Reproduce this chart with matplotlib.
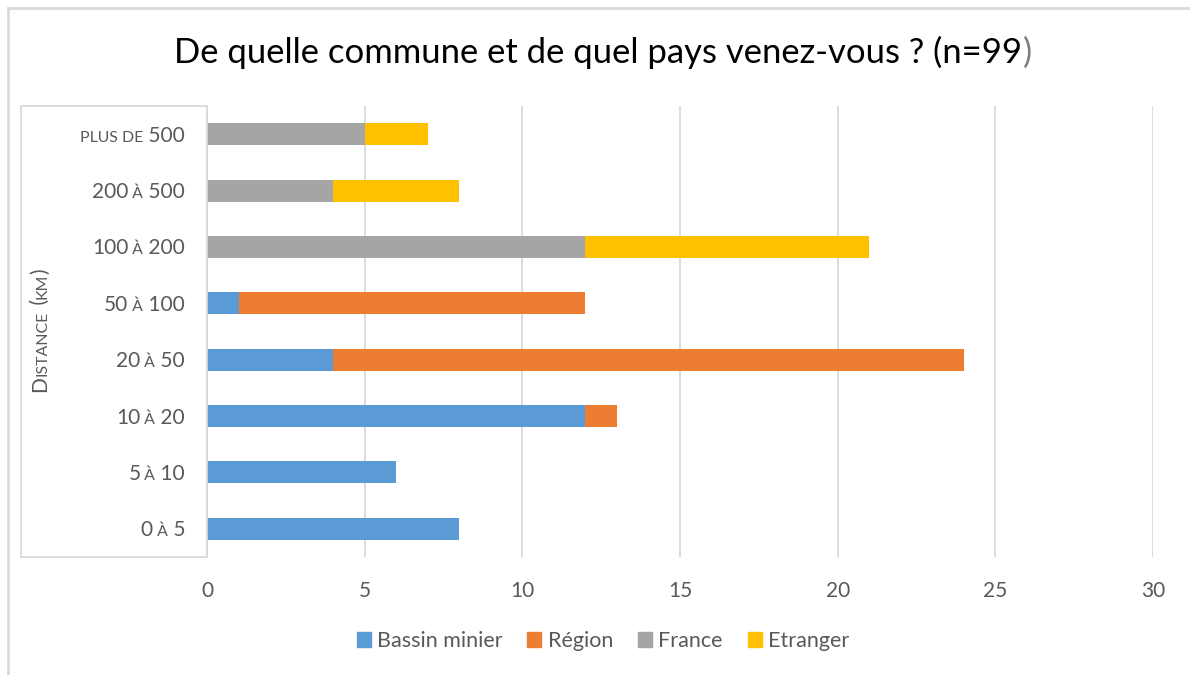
import matplotlib
matplotlib.use("Agg")
import matplotlib.pyplot as plt
from matplotlib.patches import Patch, Rectangle
from matplotlib.lines import Line2D
from matplotlib.font_manager import FontProperties
import numpy as np

plt.rcParams['font.family'] = ['Lato', 'DejaVu Sans']

# distance classes (km), bottom to top
categories = ["0 à 5", "5 à 10", "10 à 20", "20 à 50", "50 à 100",
              "100 à 200", "200 à 500", "plus de 500"]
series_names = ["Bassin minier", "Région", "France", "Etranger"]
bassin = [8, 6, 12, 4, 1, 0, 0, 0]
region = [0, 0, 1, 20, 11, 0, 0, 0]
france = [0, 0, 0, 0, 0, 12, 4, 5]
etranger = [0, 0, 0, 0, 0, 9, 4, 2]
colors = ["#5B9BD5", "#ED7D31", "#A5A5A5", "#FFC000"]
xticks = [0, 5, 10, 15, 20, 25, 30]
title = "De quelle commune et de quel pays venez-vous ? (n=99"
ylabel = "Distance (km)"

TXT = "#595959"
GRID = "#D9D9D9"
W, H = 1190, 675

fig = plt.figure(figsize=(W / 100, H / 100), dpi=100)
ax = fig.add_axes([207 / W, 1 - 557 / H, (1153 - 207) / W, (557 - 106) / H])

y = np.arange(len(categories))
left = np.zeros(len(categories))
for vals, name, c in zip([bassin, region, france, etranger], series_names, colors):
    ax.barh(y, vals, left=left, height=0.39, color=c, label=name, zorder=3)
    left += np.array(vals)

ax.set_xlim(0, 30)
ax.set_ylim(-0.5, len(categories) - 0.5)
ax.set_xticks(xticks)
ax.set_xticklabels([str(t) for t in xticks])
ax.set_yticks([])
ax.tick_params(axis='x', length=0, pad=17, labelsize=15, labelcolor=TXT)
ax.grid(axis='x', color=GRID, lw=1.3, zorder=0)
for s in ax.spines.values():
    s.set_visible(False)

# frame around the category labels and outer chart border
fig.add_artist(Rectangle((21 / W, 1 - 557 / H), (207 - 21) / W, (557 - 106) / H,
                         transform=fig.transFigure, fill=False, ec=GRID, lw=1.3))
fig.add_artist(Line2D([8 / W, 8 / W], [0, 1 - 8 / H], transform=fig.transFigure, color=GRID, lw=2))
fig.add_artist(Line2D([8 / W, 1], [1 - 8 / H, 1 - 8 / H], transform=fig.transFigure, color=GRID, lw=2))

renderer = fig.canvas.get_renderer()


def draw_runs(runs, x, yb, ha='left', rotation=0):
    """runs: (text, size, color); x, yb in pixels (yb = baseline, from bottom)"""
    widths = []
    for txt, size, col in runs:
        fp = FontProperties(family='Lato', size=size)
        w, h, d = renderer.get_text_width_height_descent(txt, fp, ismath=False)
        widths.append(w)
    total = sum(widths)
    pos = {'left': 0, 'center': -total / 2, 'right': -total}[ha]
    for (txt, size, col), w in zip(runs, widths):
        if rotation == 0:
            fig.text((x + pos) / W, yb / H, txt, fontsize=size, color=col,
                     ha='left', va='baseline', family='Lato')
        else:
            fig.text(x / W, (yb + pos) / H, txt, fontsize=size, color=col,
                     ha='left', va='baseline', rotation=90,
                     rotation_mode='anchor', family='Lato')
        pos += w


def smallcaps(s, size, color=TXT, ratio=0.76):
    # lowercase letters become reduced capitals; spaces follow the next char
    kinds = []
    for i, ch in enumerate(s):
        if ch == ' ':
            nxt = next((c for c in s[i:] if c != ' '), 'A')
            kinds.append(nxt.islower())
        else:
            kinds.append(ch.islower())
    runs = []
    for ch, k in zip(s, kinds):
        if runs and runs[-1][1] == k:
            runs[-1][0] += ch
        else:
            runs.append([ch, k])
    return [(t.upper() if k else t, size * ratio if k else size, color) for t, k in runs]


LBL = 15
cap = 0.72 * LBL * 100 / 72
for i, cat in enumerate(categories):
    yc = ax.transData.transform((0, i))[1]
    draw_runs(smallcaps(cat, LBL), 185, yc - cap / 2, ha='right')

draw_runs(smallcaps(ylabel, LBL), 46, H - 330, ha='center', rotation=90)

TS = 24.9
draw_runs([(title, TS, "#000000"), (")", TS, "#7F7F7F")], 603, H - 63, ha='center')

handles = [Patch(color=c, label=n) for c, n in zip(colors, series_names)]
fig.legend(handles=handles, loc='center', bbox_to_anchor=(603 / W, 1 - 641 / H), ncol=4,
           frameon=False, fontsize=15.5, labelcolor=TXT, handlelength=0.65, handleheight=0.65,
           handletextpad=0.3, columnspacing=1.15)

fig.savefig("out.png", dpi=100)
